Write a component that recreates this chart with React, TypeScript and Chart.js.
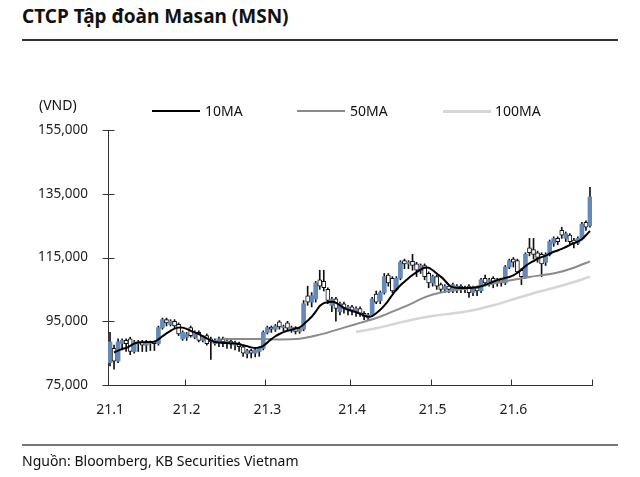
import React, { useEffect, useRef } from "react";
import { Chart, registerables } from "chart.js";

Chart.register(...registerables);

// ---- data ----
const monthLabels = ["21.1", "21.2", "21.3", "21.4", "21.5", "21.6"];
const monthDays = [19, 20, 21, 20, 20, 20];
const yTicks = [75000, 95000, 115000, 135000, 155000];

const openP = [
  82000, 86500, 82500, 88000, 89000, 89500, 85500, 88000, 88500, 87500,
  88000, 88500, 88000, 93000, 95500, 94000, 95000, 94000, 89500, 90000,
  93000, 90000, 91500, 89000, 90500, 89500, 88000, 88500, 89500, 88000,
  88800, 87500, 88000, 87000, 84800, 85800, 85000, 85500, 86500, 91500,
  93200, 92500, 94800, 93000, 94500, 92500, 93000, 91800, 92500, 103000,
  101000, 102000, 108000, 107500, 105000, 100000, 102000, 98000, 100500, 98500,
  99500, 98000, 99000, 97500, 96000, 97000, 103500, 101500, 104000, 109500,
  108500, 105000, 108500, 114000, 113000, 113800, 113000, 111000, 112500, 110000,
  107000, 109000, 106500, 105000, 106000, 104500, 105000, 106000, 105000, 106000,
  104000, 105500, 104500, 108500, 107000, 108500, 107000, 108000, 107000, 112000,
  114500, 114000, 111000, 109000, 118000, 117500, 116500, 116000, 113500, 116000,
  119500, 121000, 123500, 121000, 122000, 120500, 119500, 121000, 126000, 125000,
];
const highP = [
  91500, 87500, 89500, 89500, 89500, 90000, 89000, 89000, 89000, 89000,
  88800, 88800, 93500, 96000, 96000, 95500, 95500, 94500, 92000, 91500,
  93500, 92000, 92000, 90500, 91000, 90000, 89500, 90000, 90000, 89300,
  89000, 88800, 88500, 87500, 86200, 86200, 86500, 87000, 92000, 93500,
  93500, 94000, 95200, 93800, 95000, 93500, 93300, 93000, 101500, 106000,
  104000, 107500, 111000, 111000, 105500, 102500, 102500, 101000, 101000, 100000,
  100000, 99500, 99500, 98000, 97500, 102500, 104500, 104500, 110000, 110000,
  109000, 109000, 114000, 114500, 114000, 116000, 113500, 113000, 113000, 110500,
  109500, 109500, 107000, 106500, 106500, 107000, 106500, 106500, 106000, 106500,
  106000, 106000, 108500, 109500, 108500, 109000, 108500, 108500, 112500, 114500,
  115000, 114500, 111500, 116500, 121000, 121000, 117000, 116500, 116500, 120500,
  121500, 121500, 124500, 123000, 122500, 121000, 121500, 126000, 126500, 137000,
];
const lowP = [
  81000, 80000, 82000, 86000, 85500, 84500, 85000, 85500, 85500, 85500,
  85800, 85800, 87500, 92500, 93500, 93500, 93000, 90500, 89000, 89000,
  90000, 89500, 88500, 88500, 87500, 83000, 87500, 87000, 87000, 86500,
  86500, 86000, 85500, 84000, 83500, 83500, 83800, 84000, 86000, 91000,
  91500, 91800, 92500, 92000, 92000, 91500, 91000, 91200, 92000, 100000,
  99500, 101000, 105000, 104500, 100500, 98000, 95000, 97000, 97500, 97000,
  97000, 96500, 96500, 95500, 95500, 96500, 100500, 100500, 103500, 106000,
  104000, 104500, 108000, 111500, 111500, 111000, 109000, 110000, 108000, 105500,
  106000, 105000, 104000, 104000, 104000, 104000, 104000, 104000, 104000, 102500,
  103000, 103000, 104000, 106000, 106000, 105500, 106000, 106000, 106500, 111500,
  112000, 110000, 106500, 108500, 115500, 114500, 113500, 109000, 112500, 115500,
  118500, 119000, 121000, 120000, 119000, 118000, 119000, 120500, 123500, 124500,
];
const closeP = [
  88500, 82500, 88500, 89000, 88000, 85500, 88500, 88500, 87500, 88500,
  88500, 88000, 93000, 95500, 94500, 95000, 93500, 91000, 91500, 91000,
  90500, 91500, 89000, 90000, 88000, 88500, 89000, 89500, 88500, 88800,
  87800, 88300, 87000, 85000, 85800, 85000, 86000, 86500, 91500, 93000,
  92500, 93500, 93200, 93300, 92800, 93000, 91800, 92500, 100500, 101000,
  103000, 107000, 106000, 105500, 101500, 102000, 99000, 100500, 99000, 99500,
  98500, 99000, 97500, 96500, 97000, 102000, 101000, 104000, 109000, 107000,
  104500, 108500, 113500, 113000, 113500, 112500, 111000, 112500, 109000, 107000,
  109000, 106000, 105000, 106000, 105000, 106500, 106000, 105000, 105500, 104000,
  105500, 104500, 108000, 107000, 108000, 107500, 108000, 107000, 112000, 114000,
  113500, 110500, 109000, 116000, 116500, 116000, 115000, 113000, 116000, 120000,
  121000, 120000, 122000, 122500, 120000, 119500, 121000, 125500, 124500, 134000,
];

const ma10 = [
  null, 85200, 85800, 86300, 86600, 87300, 88000, 88300, 88400, 88500,
  88500, 88600, 89300, 90300, 91200, 92000, 92700, 93000, 93000, 92600,
  92000, 91500, 91000, 90300, 89600, 89000, 88500, 88300, 88200, 88200,
  88100, 88000, 87800, 87500, 87200, 86800, 86600, 86800, 87300, 88300,
  89400, 90300, 91000, 91600, 92000, 92300, 92700, 93100, 94000, 95200,
  96400, 98000, 99800, 100700, 101000, 101100, 100800, 100000, 99200, 98600,
  98200, 97900, 97300, 96800, 96400, 96600, 97500, 98600, 99900, 101500,
  103300, 104900, 106300, 107400, 108500, 109500, 110400, 111200, 111800, 111800,
  111000, 110000, 109000, 107800, 106400, 105700, 105500, 105400, 105400, 105400,
  105500, 105700, 106000, 106400, 106900, 107400, 107900, 108300, 108600, 108900,
  109400, 110200, 111200, 112300, 113200, 113900, 114600, 115100, 115600, 116200,
  116800, 117200, 117700, 118300, 118900, 119500, 120000, 120700, 122000, 123300,
];

const ma50Idx = [28, 33, 37, 42, 47, 52, 58, 62, 66, 70, 75, 78, 82, 89, 97, 104, 111, 115, 119];
const ma50Val = [89500, 89400, 89400, 89300, 89500, 90800, 93000, 94500, 96000, 98000, 100700, 102500, 104000, 105400, 107300, 108900, 110300, 111800, 113800];

const ma100Idx = [61, 66, 71, 77, 82, 89, 95, 101, 107, 111, 115, 119];
const ma100Val = [91700, 92800, 94300, 96000, 97000, 98200, 100000, 102300, 104500, 105800, 107300, 109000];

// ---- styles ----
const BLUE = "#6589b8";
const FONT = "'Noto Sans', sans-serif";

const categories: string[] = [];
const monthStart: number[] = [];
monthLabels.forEach((m, k) => {
  monthStart.push(categories.length);
  for (let d = 0; d < monthDays[k]; d++) categories.push(d === 0 ? m : `${m}.${d + 1}`);
});

function sparse(idx: number[], val: number[]) {
  const arr: (number | null)[] = categories.map(() => null);
  idx.forEach((i, k) => (arr[i] = val[k]));
  return arr;
}

const tickPlugin = {
  id: "customTicks",
  afterDraw(chart: any) {
    const { ctx, chartArea, scales } = chart;
    const x = scales.x;
    const y = scales.y;
    ctx.save();
    ctx.strokeStyle = "#333";
    ctx.lineWidth = 1;
    const left = Math.round(chartArea.left) + 0.5;
    yTicks.forEach((v) => {
      const py = Math.round(y.getPixelForValue(v)) + 0.5;
      ctx.beginPath();
      ctx.moveTo(left - 6, py);
      ctx.lineTo(left + 6, py);
      ctx.stroke();
    });
    const half = (x.getPixelForValue(1) - x.getPixelForValue(0)) / 2;
    const bottom = Math.round(chartArea.bottom) + 0.5;
    const bounds = monthStart.map((i) => x.getPixelForValue(i) - half);
    bounds.push(x.getPixelForValue(categories.length - 1) + half);
    bounds.forEach((bx) => {
      const px = Math.round(bx) + 0.5;
      ctx.beginPath();
      ctx.moveTo(px, bottom);
      ctx.lineTo(px, bottom - 6);
      ctx.stroke();
    });
    ctx.restore();
  },
};

export default function App() {
  const ref = useRef<HTMLCanvasElement>(null);

  useEffect(() => {
    if (!ref.current) return;
    const up = categories.map((_, i) => closeP[i] >= openP[i]);
    const chart = new Chart(ref.current, {
      type: "bar",
      data: {
        labels: categories,
        datasets: [
          {
            type: "line",
            label: "10MA",
            data: ma10,
            borderColor: "#000",
            borderWidth: 2,
            pointRadius: 0,
            tension: 0.3,
            order: 0,
          } as any,
          {
            type: "line",
            label: "50MA",
            data: sparse(ma50Idx, ma50Val),
            borderColor: "#8a8a8a",
            borderWidth: 2,
            pointRadius: 0,
            spanGaps: true,
            cubicInterpolationMode: "monotone",
            order: 0,
          } as any,
          {
            type: "line",
            label: "100MA",
            data: sparse(ma100Idx, ma100Val),
            borderColor: "#d6d6d6",
            borderWidth: 2.5,
            pointRadius: 0,
            spanGaps: true,
            cubicInterpolationMode: "monotone",
            order: 0,
          } as any,
          {
            label: "body",
            data: categories.map((_, i) => [openP[i], closeP[i]]),
            backgroundColor: up.map((u) => (u ? BLUE : "#ffffff")),
            borderColor: "#111",
            borderWidth: up.map((u) => (u ? 0 : 1)),
            borderSkipped: false,
            grouped: false,
            barPercentage: 1,
            categoryPercentage: 1,
            minBarLength: 1,
            order: 1,
          } as any,
          {
            label: "wick",
            data: categories.map((_, i) => [lowP[i], highP[i]]),
            backgroundColor: "#111",
            barThickness: 1,
            grouped: false,
            order: 2,
          } as any,
        ],
      },
      options: {
        responsive: false,
        animation: false,
        layout: { padding: { top: 130, right: 48, bottom: 0, left: 0 } },
        plugins: {
          legend: { display: false },
          tooltip: { enabled: false },
          title: { display: false },
        },
        scales: {
          x: {
            type: "category",
            offset: true,
            grid: { display: false, drawTicks: false },
            border: { display: true, color: "#333", width: 1 },
            ticks: {
              autoSkip: false,
              maxRotation: 0,
              minRotation: 0,
              padding: 17,
              color: "#222",
              font: { family: FONT, size: 14 },
              callback: (_v: any, i: number) => {
                const k = monthStart.indexOf(i);
                return k >= 0 ? monthLabels[k] : "";
              },
            },
            afterFit: (s: any) => {
              s.height = 92;
            },
          },
          y: {
            min: 75000,
            max: 155000,
            grid: { display: false, drawTicks: false },
            border: { display: true, color: "#333", width: 1 },
            afterBuildTicks: (s: any) => {
              s.ticks = yTicks.map((v) => ({ value: v }));
            },
            ticks: {
              padding: 20,
              color: "#222",
              font: { family: FONT, size: 13.5 },
              callback: (v: any) => Number(v).toLocaleString("en-US"),
            },
            afterFit: (s: any) => {
              s.width = 108;
            },
          },
        },
      },
      plugins: [tickPlugin],
    });
    return () => chart.destroy();
  }, []);

  const text = { position: "absolute" as const, fontFamily: FONT, color: "#111", whiteSpace: "nowrap" as const };

  return (
    <div style={{ position: "fixed", left: 0, top: 0, width: 640, height: 477, background: "#fff", overflow: "hidden" }}>
      <div style={{ ...text, left: 22, top: 3, fontSize: 19, fontWeight: 700, lineHeight: "26px" }}>CTCP Tập đoàn Masan (MSN)</div>
      <div style={{ position: "absolute", left: 22, top: 39, width: 596, height: 1.5, background: "#333" }} />
      <canvas ref={ref} width={640} height={477} style={{ position: "absolute", left: 0, top: 0 }} />
      <div style={{ ...text, left: 39, top: 95, fontSize: 14, lineHeight: "20px" }}>(VND)</div>
      <div style={{ position: "absolute", left: 152, top: 110, width: 48, height: 2, background: "#000" }} />
      <div style={{ ...text, left: 205, top: 101, fontSize: 14, lineHeight: "20px" }}>10MA</div>
      <div style={{ position: "absolute", left: 297, top: 110, width: 48, height: 2, background: "#8a8a8a" }} />
      <div style={{ ...text, left: 350, top: 101, fontSize: 14, lineHeight: "20px" }}>50MA</div>
      <div style={{ position: "absolute", left: 443, top: 110, width: 48, height: 3, background: "#d6d6d6" }} />
      <div style={{ ...text, left: 495, top: 101, fontSize: 14, lineHeight: "20px" }}>100MA</div>
      <div style={{ position: "absolute", left: 22, top: 444, width: 596, height: 2, background: "#777" }} />
      <div style={{ ...text, left: 22, top: 451, fontSize: 14, lineHeight: "20px" }}>Nguồn: Bloomberg, KB Securities Vietnam</div>
    </div>
  );
}
